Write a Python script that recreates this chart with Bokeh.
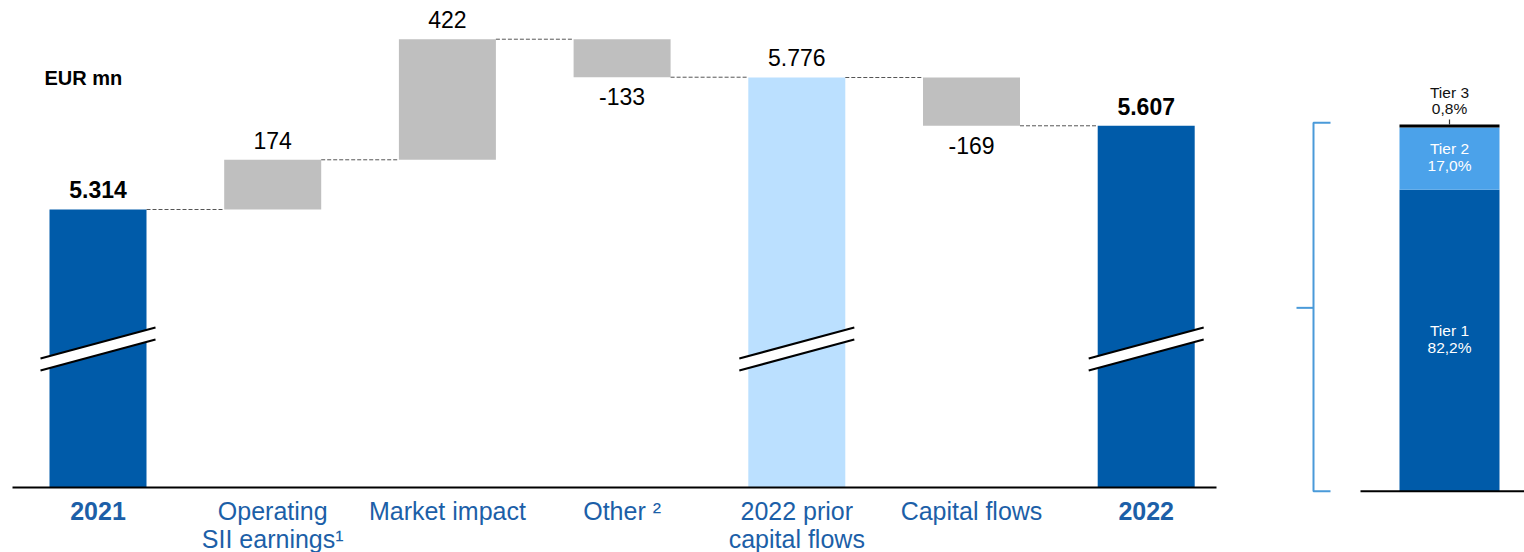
from bokeh.plotting import figure
from bokeh.models import Range1d
from bokeh.core.properties import value
from bokeh.embed import file_html
from bokeh.resources import INLINE

# ---------------- data ----------------
categories = ["2021", "Operating\nSII earnings\u00b9", "Market impact", "Other \u00b2",
              "2022 prior\ncapital flows", "Capital flows", "2022"]
kinds = ["total", "delta", "delta", "delta", "subtotal", "delta", "total"]
values = [5314, 174, 422, -133, 5776, -169, 5607]

tier_names = ["Tier 1", "Tier 2", "Tier 3"]
tier_shares = [82.2, 17.0, 0.8]

unit_label = "EUR mn"

# ---------------- layout / style ----------------
W, H = 1524, 552
SLOT = 174.7          # px per category slot
X0 = 97.5             # px centre of first category
Y_TOP = 6045.5        # value at top of plot
UPP = 3.5             # value units per pixel
PCT_BASE_PX = 490.7   # px of 0 % on the tier bar
PCT_PPX = 3.667       # px per percent
BASE_FIX = 0.42       # baseline correction (em)

x_start = -X0 / SLOT
x_end = (W - X0) / SLOT
y_start = Y_TOP - H * UPP


def px_x(px):
    return (px - X0) / SLOT


def py(px):
    return Y_TOP - px * UPP


AXIS_Y = py(487)
BW = 97 / SLOT
FONT = value("Liberation Sans")

DARK = "#005BA9"
LIGHT = "#BBE0FF"
GREY = "#BFBFBF"
TIER2 = "#4BA2EA"
LABEL_BLUE = "#1C5FA8"
BRACKET = "#4A9AD9"

p = figure(width=W, height=H, x_range=Range1d(x_start, x_end), y_range=Range1d(y_start, Y_TOP),
           output_backend="svg", toolbar_location=None, x_axis_location=None, y_axis_location=None,
           min_border=0, min_border_left=0, min_border_right=0, min_border_top=0, min_border_bottom=0)
p.grid.visible = False
p.outline_line_color = None
p.background_fill_color = "white"
p.border_fill_color = "white"
p.extra_y_ranges = {"pct": Range1d(-(H - PCT_BASE_PX) / PCT_PPX, PCT_BASE_PX / PCT_PPX)}

# ---------------- waterfall ----------------
xs = list(range(len(categories)))
bottoms, tops, colors, levels = [], [], [], []
level = 0
for k, v in zip(kinds, values):
    if k == "delta":
        bottoms.append(level)
        tops.append(level + v)
        level += v
        colors.append(GREY)
    else:
        bottoms.append(AXIS_Y)
        tops.append(v)
        level = v
        colors.append(DARK if k == "total" else LIGHT)
    levels.append(level)

p.vbar(x=xs, width=BW, bottom=bottoms, top=tops, fill_color=colors, line_color=None)

# connectors
p.segment(x0=[i + BW / 2 for i in xs[:-1]], x1=[i + 1 - BW / 2 for i in xs[:-1]],
          y0=levels[:-1], y1=levels[:-1], line_color="#555555", line_width=1, line_dash="4 2")

# break marks on the total bars
brk_c = py(348.5)
half_rise = 15.5 * UPP
gap = 6 * UPP
ext = 9 / SLOT
for i, k in enumerate(kinds):
    if k == "delta":
        continue
    xl, xr = i - BW / 2 - ext, i + BW / 2 + ext
    yl, yr = brk_c - half_rise, brk_c + half_rise
    p.patch([xl, xr, xr, xl], [yl - gap, yr - gap, yr + gap, yl + gap], fill_color="white", line_color=None)
    p.line([xl, xr], [yl + gap, yr + gap], line_color="black", line_width=2)
    p.line([xl, xr], [yl - gap, yr - gap], line_color="black", line_width=2)

# axis line
p.segment(x0=[px_x(12)], x1=[px_x(1216)], y0=[AXIS_Y], y1=[AXIS_Y], line_color="black", line_width=2)


def fmt(v):
    return f"{v:,}".replace(",", ".")


VAL_FS = 23
CAT_FS = 25
UNIT_FS = 20
TIER_FS = 15.5

# value labels
for i, (k, v) in enumerate(zip(kinds, values)):
    hi, lo = max(bottoms[i], tops[i]), min(bottoms[i], tops[i])
    if k == "delta" and v < 0:
        y = lo - (29 - BASE_FIX * VAL_FS) * UPP
    else:
        y = hi + (10 + BASE_FIX * VAL_FS) * UPP
    p.text(x=[i], y=[y], text=[fmt(v)], text_font=FONT, text_font_size=f"{VAL_FS}px",
           text_font_style="bold" if k == "total" else "normal",
           text_align="center", text_baseline="alphabetic", text_color="black")

# category labels
for i, (k, c) in enumerate(zip(kinds, categories)):
    for j, line in enumerate(c.split("\n")):
        p.text(x=[i], y=[py(521 + 28 * j - BASE_FIX * CAT_FS)], text=[line], text_font=FONT,
               text_font_size=f"{CAT_FS}px",
               text_font_style="bold" if k == "total" else "normal",
               text_align="center", text_baseline="alphabetic", text_color=LABEL_BLUE)

# unit label
p.text(x=[px_x(44)], y=[py(86 - BASE_FIX * UNIT_FS)], text=[unit_label], text_font=FONT,
       text_font_size=f"{UNIT_FS}px", text_font_style="bold", text_align="left",
       text_baseline="alphabetic", text_color="black")

# ---------------- tier bar ----------------
TX = px_x(1449)
TW = 100 / SLOT
t_bottoms, t_tops = [], []
acc = 0
for s in tier_shares:
    t_bottoms.append(acc)
    acc += s
    t_tops.append(acc)
p.vbar(x=[TX] * 3, width=TW, bottom=t_bottoms, top=t_tops, fill_color=[DARK, TIER2, "black"],
       line_color=None, y_range_name="pct")

tfix = BASE_FIX * TIER_FS
for i, (n, s) in enumerate(zip(tier_names, tier_shares)):
    lab = f"{s:.1f}%".replace(".", ",")
    if i < 2:
        mid = (t_bottoms[i] + t_tops[i]) / 2
        ys = [mid + (3.5 + tfix) / PCT_PPX, mid - (13.5 - tfix) / PCT_PPX]
        col = "white"
    else:
        ys = [t_tops[i] + (25.7 + tfix) / PCT_PPX, t_tops[i] + (9 + tfix) / PCT_PPX]
        col = "#111111"
    p.text(x=[TX, TX], y=ys, text=[n, lab], text_font=FONT, text_font_size=f"{TIER_FS}px",
           text_align="center", text_baseline="alphabetic", text_color=col, y_range_name="pct")

# small tick above tier 3
p.segment(x0=[TX], x1=[TX], y0=[t_tops[-1]], y1=[t_tops[-1] + 5 / PCT_PPX], line_color="#333333",
          line_width=1.2, y_range_name="pct")

# tier axis line
p.segment(x0=[px_x(1360)], x1=[px_x(1524)], y0=[0], y1=[0], line_color="black", line_width=2,
          y_range_name="pct")

# bracket
bx, bx2, bx0 = px_x(1313), px_x(1330), px_x(1296)
p.line([bx2, bx, bx, bx2], [t_tops[-1] + 0.5, t_tops[-1] + 0.5, 0, 0], line_color=BRACKET,
       line_width=2, y_range_name="pct")
p.segment(x0=[bx0], x1=[bx], y0=[50], y1=[50], line_color=BRACKET, line_width=2, y_range_name="pct")

open("out.html", "w").write(file_html(p, INLINE))
